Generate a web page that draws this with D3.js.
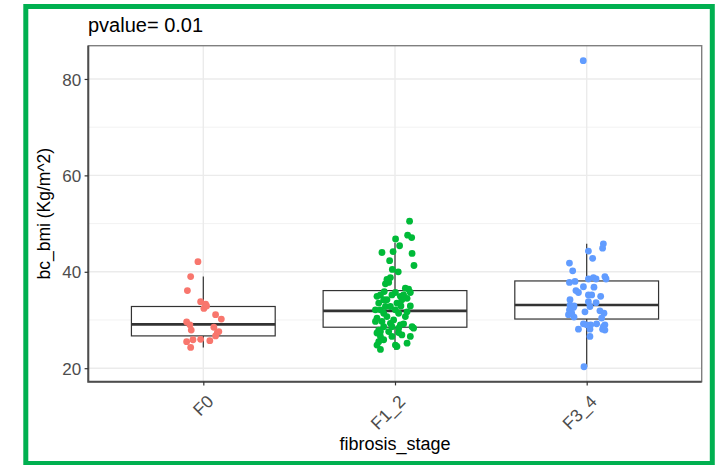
<html>
<script src="https://d3js.org/d3.v7.min.js"></script>
<style>
  body { margin: 0; background: white; }
  text { font-family: "Liberation Sans", Arial, sans-serif; }
</style>
<body>
<svg width="721" height="465"></svg>
<script>
// categories and colours
const stages = ["F0", "F1_2", "F3_4"];
const stageColors = ["#F8766D", "#00BA38", "#619CFF"];
const yTicks = [20, 40, 60, 80];
const yMinor = [30, 50, 70];

// box stats: [whisker low, q1, median, q3, whisker high]
const boxF0 = [24.3, 26.7, 29.1, 32.8, 39.0];
const boxF12 = [23.8, 28.5, 31.9, 36.1, 46.0];
const boxF34 = [20.3, 30.2, 33.1, 38.1, 45.8];

// jittered points: [jitter (category units), bc_bmi]
const ptsF0 = [[-0.028,42.1],[-0.066,39.0],[-0.083,36.1],[-0.014,33.8],[0.012,33.3],[0.003,32.4],[0.017,32.9],
  [0.064,31.1],[0.094,30.2],[-0.087,29.6],[-0.070,29.0],[-0.063,27.9],[0.055,28.5],[0.073,27.4],[0.064,26.7],
  [-0.087,25.5],[-0.054,25.9],[-0.014,26.0],[0.034,25.7],[-0.066,24.3],[0.081,27.6]];
const ptsF12 = [[0.076,50.5],[0.003,46.8],[0.066,47.6],[0.087,47.1],[0.024,45.4],[-0.068,44.0],[-0.010,44.2],
  [0.089,43.8],[-0.028,42.3],[0.099,41.3],[-0.014,40.5],[0.017,40.0],[-0.042,38.4],[-0.024,38.8],[-0.050,37.5],
  [-0.033,37.8],[0.054,36.6],[0.071,36.4],[0.080,35.7],[0.002,35.7],[-0.076,35.2],[-0.094,34.9],[-0.056,35.9],
  [0.028,34.9],[0.036,34.2],[-0.016,35.2],[0.063,34.5],[0.010,33.5],[0.080,32.9],[-0.085,33.5],[0.031,32.9],
  [0.019,31.4],[0.063,31.7],[-0.076,32.1],[-0.102,32.1],[-0.059,31.4],[-0.042,30.7],[-0.094,30.4],[-0.102,29.7],
  [-0.024,29.3],[0.028,29.0],[0.045,29.2],[0.097,28.3],[-0.059,28.6],[-0.085,27.9],[-0.033,27.6],[0.019,27.4],
  [0.036,26.9],[0.080,26.6],[-0.076,26.6],[-0.016,26.6],[-0.085,25.5],[0.002,24.8],[0.063,25.2],[-0.076,23.9],
  [0.010,24.5],[-0.068,29.7],[-0.007,30.0],[-0.050,32.8],[0.054,30.7],[0.089,28.6],[-0.094,27.3],[-0.042,34.2],
  [-0.024,32.8],[-0.059,34.2],[0.002,32.1],[0.045,35.2],[-0.076,27.6],[-0.016,28.6],[0.019,28.3],[-0.059,25.9],
  [-0.094,24.8]];
const ptsF34 = [[-0.018,83.8],[0.087,45.8],[0.083,44.9],[0.009,44.3],[0.031,42.8],[-0.090,41.8],[-0.073,40.2],
  [0.095,39.0],[0.101,38.5],[0.009,38.5],[0.035,38.8],[0.049,38.5],[-0.090,37.8],[-0.061,38.0],[-0.017,36.9],
  [0.038,36.8],[-0.056,36.1],[-0.043,35.7],[0.073,34.9],[0.009,35.2],[0.026,35.2],[-0.087,34.2],[0.009,33.8],
  [0.049,33.6],[-0.087,33.1],[-0.069,32.6],[-0.090,32.1],[0.017,32.8],[-0.009,31.7],[0.069,31.9],[0.090,31.4],
  [-0.095,31.1],[-0.066,30.6],[-0.078,31.4],[0.078,30.4],[-0.017,29.2],[0.021,29.0],[0.052,29.2],[0.095,29.0],
  [-0.043,28.1],[0.017,28.1],[0.095,27.9],[0.083,28.1],[0.017,26.6],[-0.014,20.3],[-0.066,32.9],[0.087,28.6],
  [0.0,29.0]];

const boxes = [boxF0, boxF12, boxF34];
const points = [ptsF0, ptsF12, ptsF34];

const svg = d3.select("svg");
const pLeft = 88.3, pRight = 701.7, pTop = 45.7, pBottom = 381.7;

// outer green frame
svg.append("rect").attr("x", 25.8).attr("y", 6.5).attr("width", 686.5).attr("height", 457)
  .attr("fill", "white").attr("stroke", "#00B050").attr("stroke-width", 5);

var x = d3.scalePoint().domain(stages).range([pLeft, pRight]).padding(0.6);
var y = d3.scaleLinear().domain([17.2, 86.9]).range([pBottom, pTop]);
var step = x.step();

// grid
var grid = svg.append("g");
grid.selectAll(".minor").data(yMinor).enter().append("line")
  .attr("x1", pLeft).attr("x2", pRight).attr("y1", d => y(d)).attr("y2", d => y(d))
  .attr("stroke", "#F2F2F2").attr("stroke-width", 1);
grid.selectAll(".major").data(yTicks).enter().append("line")
  .attr("x1", pLeft).attr("x2", pRight).attr("y1", d => y(d)).attr("y2", d => y(d))
  .attr("stroke", "#EBEBEB").attr("stroke-width", 1.4);
grid.selectAll(".vmajor").data(stages).enter().append("line")
  .attr("x1", d => x(d)).attr("x2", d => x(d)).attr("y1", pTop).attr("y2", pBottom)
  .attr("stroke", "#EBEBEB").attr("stroke-width", 1.4);

// boxplots
var bw = step * 0.75;
stages.forEach(function(s, i) {
  var b = boxes[i], cx = x(s);
  var g = svg.append("g").attr("stroke", "#333333");
  g.append("line").attr("x1", cx).attr("x2", cx).attr("y1", y(b[0])).attr("y2", y(b[1])).attr("stroke-width", 1.2);
  g.append("line").attr("x1", cx).attr("x2", cx).attr("y1", y(b[3])).attr("y2", y(b[4])).attr("stroke-width", 1.2);
  g.append("rect").attr("x", cx - bw/2).attr("y", y(b[3])).attr("width", bw).attr("height", y(b[1]) - y(b[3]))
    .attr("fill", "white").attr("stroke-width", 1.2);
  g.append("line").attr("x1", cx - bw/2).attr("x2", cx + bw/2).attr("y1", y(b[2])).attr("y2", y(b[2])).attr("stroke-width", 2.6);
});

// jitter points
stages.forEach(function(s, i) {
  svg.append("g").selectAll("circle").data(points[i]).enter().append("circle")
    .attr("cx", d => x(s) + d[0] * step)
    .attr("cy", d => y(d[1]))
    .attr("r", 3.4)
    .attr("fill", stageColors[i]);
});

// panel border
svg.append("rect").attr("x", pLeft).attr("y", pTop).attr("width", pRight - pLeft).attr("height", pBottom - pTop)
  .attr("fill", "none").attr("stroke", "#7F7F7F").attr("stroke-width", 1.4);
svg.append("path").attr("d", "M" + pLeft + "," + pTop + "V" + pBottom + "H" + pRight)
  .attr("fill", "none").attr("stroke", "#4D4D4D").attr("stroke-width", 2);

// axes
var yAxis = svg.append("g").attr("transform", "translate(" + pLeft + ",0)")
  .call(d3.axisLeft(y).tickValues(yTicks).tickSize(3.7).tickPadding(3.5));
yAxis.select(".domain").remove();
yAxis.selectAll("line").attr("stroke", "#333333").attr("stroke-width", 1.2);
yAxis.selectAll("text").attr("fill", "#4D4D4D").style("font-size", "17px").attr("dy", "0.36em");

var xAxis = svg.append("g").attr("transform", "translate(0," + pBottom + ")")
  .call(d3.axisBottom(x).tickSize(3.7).tickPadding(3.5));
xAxis.select(".domain").remove();
xAxis.selectAll("line").attr("stroke", "#333333").attr("stroke-width", 1.2);
xAxis.selectAll("text").attr("fill", "#4D4D4D").style("font-size", "17.5px")
  .attr("y", 0).attr("dy", "0.71em").attr("text-anchor", "end")
  .attr("transform", "translate(2,12) rotate(-45)");

// titles
svg.append("text").attr("x", 88).attr("y", 31.5).text("pvalue= 0.01")
  .style("font-size", "20px").attr("fill", "black");
svg.append("text").attr("x", (pLeft + pRight) / 2).attr("y", 450).attr("text-anchor", "middle")
  .text("fibrosis_stage").style("font-size", "18px").attr("fill", "black");
svg.append("text").attr("transform", "translate(50," + ((pTop + pBottom) / 2) + ") rotate(-90)")
  .attr("text-anchor", "middle").text("bc_bmi (Kg/m^2)").style("font-size", "17.5px").attr("fill", "black");
</script>
</body>
</html>
